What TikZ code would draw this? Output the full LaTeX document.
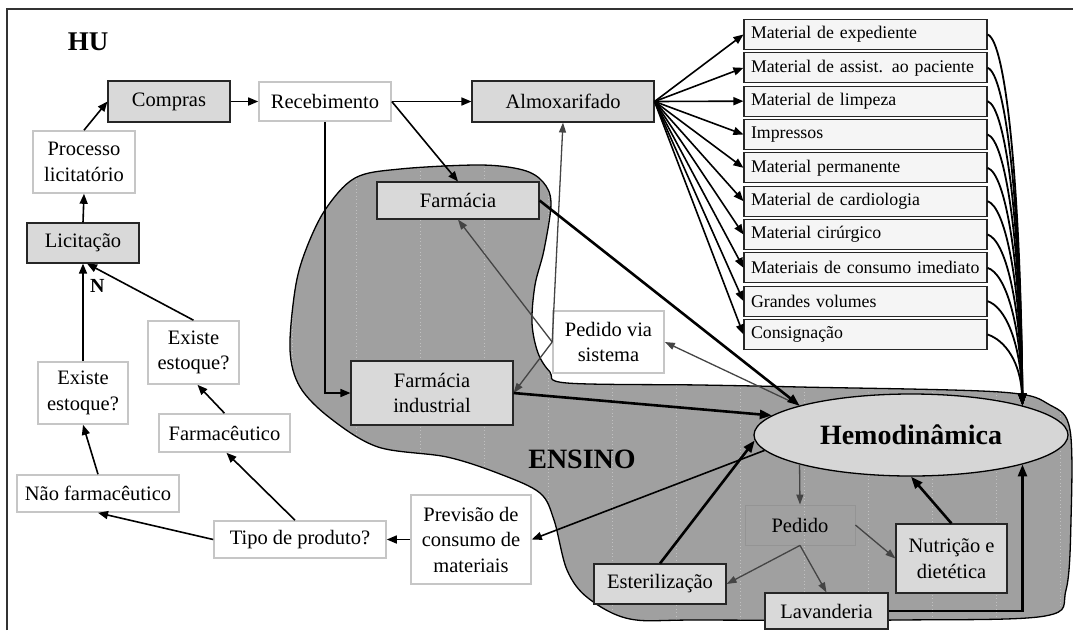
\documentclass[tikz,border=0pt]{standalone}
\usepackage{fontspec}
\setmainfont{Liberation Serif}
\usetikzlibrary{arrows.meta,shapes.geometric,calc}
\definecolor{boxgray}{HTML}{D9D9D9}
\definecolor{blobgray}{HTML}{A0A0A0}
\definecolor{rimgray}{HTML}{C6C6C6}
\definecolor{linkgray}{HTML}{444444}
\definecolor{matfill}{HTML}{F5F5F5}
\definecolor{ovalfill}{HTML}{D6D6D6}

\begin{document}
\begin{tikzpicture}[x=1pt,y=-1pt,
  txt/.style={font=\fontsize{20.5}{25.5}\selectfont, align=center, inner sep=0pt},
  graybox/.style={txt, rectangle, draw=black!85, line width=1.1pt, fill=boxgray},
  whitebox/.style={txt, rectangle, draw=rimgray, line width=1.6pt, fill=white},
  matbox/.style={rectangle, draw=black!85, line width=1.1pt, fill=matfill,
    minimum width=243pt, minimum height=30pt, inner sep=0pt, text width=229pt,
    align=left, font=\fontsize{17.8}{20}\selectfont},
  pointed/.style={-{Triangle[length=10pt,width=8pt]}},
  arr/.style={pointed, line width=1.6pt, black},
  heavy/.style={-{Triangle[length=12pt,width=9pt]}, line width=2.6pt, black},
  link/.style={-{Triangle[length=10pt,width=7pt]}, line width=1.3pt, linkgray},
  matcurve/.style={-{Triangle[length=12pt,width=8pt]}, line width=1.8pt, black}
]
\useasboundingbox (0,0) rectangle (1073,630);

% frame
\draw[line width=1.3pt, black!80] (7,630) -- (7,9) -- (1073,9);

% ENSINO region
\fill[blobgray] plot[smooth cycle, tension=0.55] coordinates {
  (567,383) (700,385) (800,387) (1000,392) (1050,405) (1070,430) (1071,520)
  (1066,590) (1045,616) (900,620) (700,620) (630,619) (588,598) (567,570)
  (554,520) (540,493) (500,474) (447,457) (378,447) (330,418) (300,387)
  (290,350) (295,290) (305,252) (325,210) (355,178) (400,169) (480,165)
  (523,170) (543,182) (551,203) (544,250) (535,285) (532,323) (538,353)
  (550,372)};
\begin{scope}
  \clip plot[smooth cycle, tension=0.55] coordinates {
    (567,383) (700,385) (800,387) (1000,392) (1050,405) (1070,430) (1071,520)
    (1066,590) (1045,616) (900,620) (700,620) (630,619) (588,598) (567,570)
    (554,520) (540,493) (500,474) (447,457) (378,447) (330,418) (300,387)
    (290,350) (295,290) (305,252) (325,210) (355,178) (400,169) (480,165)
    (523,170) (543,182) (551,203) (544,250) (535,285) (532,323) (538,353)
    (550,372)};
  \foreach \x in {292,356,...,1060}
    \draw[white, opacity=0.35, line width=0.6pt, dash pattern=on 1pt off 2.5pt] (\x,150) -- (\x,630);
\end{scope}
\draw[black, line width=1.3pt] plot[smooth cycle, tension=0.55] coordinates {
  (567,383) (700,385) (800,387) (1000,392) (1050,405) (1070,430) (1071,520)
  (1066,590) (1045,616) (900,620) (700,620) (630,619) (588,598) (567,570)
  (554,520) (540,493) (500,474) (447,457) (378,447) (330,418) (300,387)
  (290,350) (295,290) (305,252) (325,210) (355,178) (400,169) (480,165)
  (523,170) (543,182) (551,203) (544,250) (535,285) (532,323) (538,353)
  (550,372)};

% titles
\node[font=\fontsize{27}{30}\selectfont\bfseries] (hu) at (88,42) {HU};
\node[font=\fontsize{28}{30}\selectfont\bfseries] (ensino) at (582,459) {ENSINO};

% purchasing chain
\node[graybox, minimum width=122pt, minimum height=41pt] (compras) at (169,101.5) {Compras};
\node[whitebox, minimum width=132pt, minimum height=39pt] (receb) at (325,101.5) {Recebimento};
\node[graybox, minimum width=182pt, minimum height=41pt] (almox) at (563,101.5) {Almoxarifado};
\node[whitebox, minimum width=102pt, minimum height=62pt] (proc) at (84,162) {Processo\\licitatório};
\node[graybox, minimum width=112pt, minimum height=40pt] (licit) at (83,243) {Licitação};
\node[whitebox, minimum width=90pt, minimum height=62pt] (exist1) at (83,393) {Existe\\estoque?};
\node[whitebox, minimum width=91pt, minimum height=63pt] (exist2) at (193.5,352.5) {Existe\\estoque?};
\node[whitebox, minimum width=131pt, minimum height=38pt] (farmac) at (224.5,433) {Farmacêutico};
\node[whitebox, minimum width=162pt, minimum height=37pt] (naofarm) at (98,493.5) {Não farmacêutico};
\node[whitebox, minimum width=172pt, minimum height=37pt] (tipo) at (300,539.5) {Tipo de produto?};
\node[whitebox, minimum width=120pt, minimum height=89pt] (previsao) at (471,539.5) {Previsão de\\consumo de\\materiais};

% teaching area
\node[graybox, minimum width=162pt, minimum height=37pt] (farmacia) at (458,200.5) {Farmácia};
\node[graybox, minimum width=162pt, minimum height=64pt] (farmind) at (432,393) {Farmácia\\industrial};
\node[whitebox, minimum width=111pt, minimum height=62pt] (pvs) at (608.5,342) {Pedido via\\sistema};
\node[ellipse, draw=black, line width=1.3pt, fill=ovalfill, minimum width=314pt,
  minimum height=82pt, inner sep=0pt, font=\fontsize{28}{30}\selectfont\bfseries]
  (hemo) at (911,435) {Hemodinâmica};
\node[txt, rectangle, draw=black!42, line width=0.8pt, minimum width=110pt, minimum height=40pt] (pedido) at (800,525) {Pedido};
\node[graybox, minimum width=132pt, minimum height=40pt] (ester) at (660,584) {Esterilização};
\node[graybox, minimum width=123pt, minimum height=36pt] (lavand) at (826.5,611) {Lavanderia};
\node[graybox, minimum width=111pt, minimum height=69pt] (nutri) at (951.5,558.5) {Nutrição e\\dietética};

% material categories
\foreach \i/\t in {0/Material de expediente, 1/Material de assist. ao paciente,
  2/Material de limpeza, 3/Impressos, 4/Material permanente,
  5/Material de cardiologia, 6/Material cirúrgico,
  7/Materiais de consumo imediato, 8/Grandes volumes, 9/Consignação}
  \node[matbox] (m\i) at (865.5,{34.5+33.33*\i}) {\t};

% purchasing connectors
\draw[arr] (compras.east) -- (receb.west);
\draw[arr] (receb.east) -- (almox.west);
\draw[arr] (proc.north) -- (compras.west);
\draw[arr] (licit.north) -- (proc.south);
\draw[arr] (exist1.north) -- node[pos=0.77, right=3pt, font=\fontsize{20}{22}\selectfont\bfseries] {N} (licit.south);
\draw[arr] (exist2.north) -- ([xshift=4pt]licit.south);
\draw[arr] (farmac.north) -- ([xshift=4pt]exist2.south);
\draw[arr] (naofarm.north) -- (exist1.south);
\draw[arr] ([xshift=-5pt]tipo.north) -- ([xshift=2pt]farmac.south);
\draw[arr] (tipo.west) -- (naofarm.south);
\draw[arr] (previsao.west) -- (tipo.east);
\draw[arr] (receb.east) -- (farmacia.north);
\draw[arr] (receb.south) |- (farmind.west);

% storeroom to categories, categories to Hemodinâmica
\foreach \i in {0,...,9}
  \draw[arr] (almox.east) -- (m\i.west);
\foreach \i in {0,...,9}{
  \pgfmathsetmacro\drop{0.6*(406-(34.5+33.33*\i))}
  \draw[matcurve] (m\i.east) .. controls +(18,6) and +(-2,-\drop) .. (hemo.north east);
}

% system requests
\draw[link] (pvs.west) -- (almox.south);
\draw[link] (pvs.west) -- (farmacia.south);
\draw[link] (pvs.west) -- (farmind.east);
\draw[link] (hemo.north west) -- (pvs.east);

% flows into Hemodinâmica
\draw[heavy] (farmacia.east) -- (hemo.north west);
\draw[heavy] (farmind.east) -- (hemo.172);
\draw[heavy] (ester.north) -- (hemo.182);
\draw[heavy] (nutri.north) -- (hemo.south);
\draw[heavy] (lavand.east) -| (hemo.south east);
\draw[arr] (hemo.186) -- (previsao.east);

% internal requests
\draw[link] (hemo.south west) -- (pedido.north);
\draw[link] (pedido.east) -- (nutri.west);
\draw[link] (pedido.south) -- (ester.east);
\draw[link] (pedido.south) -- (lavand.north);
\end{tikzpicture}
\end{document}
